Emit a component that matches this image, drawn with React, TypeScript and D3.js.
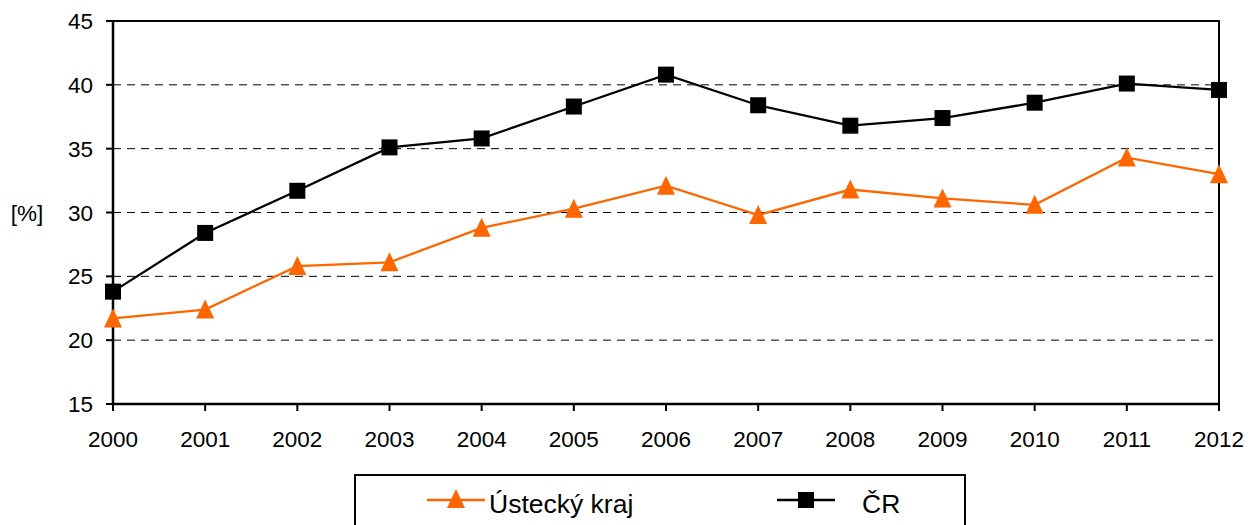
import React from "react";
import * as d3 from "d3";

const years = [2000, 2001, 2002, 2003, 2004, 2005, 2006, 2007, 2008, 2009, 2010, 2011, 2012];
const usteckyValues = [21.7, 22.4, 25.8, 26.1, 28.8, 30.3, 32.1, 29.8, 31.8, 31.1, 30.6, 34.3, 33.0];
const crValues = [23.8, 28.4, 31.7, 35.1, 35.8, 38.3, 40.8, 38.4, 36.8, 37.4, 38.6, 40.1, 39.6];
const yTicks = [15, 20, 25, 30, 35, 40, 45];
const seriesNames = ["Ústecký kraj", "ČR"];

const W = 1254, H = 525;
const left = 113, right = 1219, top = 21, bottom = 404;
const font = "'Liberation Sans', Arial, sans-serif";
const orange = "#FF6600";

export default function App() {
  const x = d3.scaleLinear().domain([2000, 2012]).range([left, right]);
  const y = d3.scaleLinear().domain([15, 45]).range([bottom, top]);
  const line = d3.line<number>().x((_, i) => x(years[i])).y((d) => y(d));
  const tri = (cx: number, cy: number) =>
    `M${cx},${cy - 10} L${cx + 9},${cy + 9} L${cx - 9},${cy + 9} Z`;

  return (
    <svg width={W} height={H} style={{ position: "absolute", left: 0, top: 0, background: "#fff" }}>
      {yTicks.filter((t) => t !== 15 && t !== 45).map((t) => (
        <line key={t} x1={left} x2={right} y1={y(t)} y2={y(t)} stroke="#000" strokeWidth={1} strokeDasharray="8,6" />
      ))}
      <rect x={left} y={top} width={right - left} height={bottom - top} fill="none" stroke="#000" strokeWidth={2} />
      <line x1={left} x2={left} y1={top} y2={bottom} stroke="#000" strokeWidth={2.5} />
      <line x1={left} x2={right} y1={bottom} y2={bottom} stroke="#000" strokeWidth={2.5} />
      {yTicks.map((t) => (
        <g key={t}>
          <line x1={left - 7} x2={left} y1={y(t)} y2={y(t)} stroke="#000" strokeWidth={2} />
          <text x={left - 20} y={y(t)} dy="0.36em" textAnchor="end" fontFamily={font} fontSize={22.5}>{t}</text>
        </g>
      ))}
      {years.map((yr) => (
        <g key={yr}>
          <line x1={x(yr)} x2={x(yr)} y1={bottom} y2={bottom + 7} stroke="#000" strokeWidth={2} />
          <text x={x(yr)} y={447} textAnchor="middle" fontFamily={font} fontSize={22.5}>{yr}</text>
        </g>
      ))}
      <text x={27} y={213} dy="0.36em" textAnchor="middle" fontFamily={font} fontSize={22.5}>[%]</text>
      <path d={line(crValues) || ""} fill="none" stroke="#000" strokeWidth={2.3} />
      <path d={line(usteckyValues) || ""} fill="none" stroke={orange} strokeWidth={2.3} />
      {crValues.map((v, i) => (
        <rect key={i} x={x(years[i]) - 8} y={y(v) - 8} width={16} height={16} fill="#000" />
      ))}
      {usteckyValues.map((v, i) => (
        <path key={i} d={tri(x(years[i]), y(v))} fill={orange} />
      ))}
      <rect x={355} y={475} width={610} height={60} fill="#fff" stroke="#000" strokeWidth={2} />
      <line x1={427} x2={485} y1={500} y2={500} stroke={orange} strokeWidth={2.3} />
      <path d={tri(456, 499)} fill={orange} />
      <text x={489} y={513} fontFamily={font} fontSize={26.5}>{seriesNames[0]}</text>
      <line x1={777} x2={835} y1={500} y2={500} stroke="#000" strokeWidth={2.3} />
      <rect x={798} y={492} width={16} height={16} fill="#000" />
      <text x={862} y={513} fontFamily={font} fontSize={26.5}>{seriesNames[1]}</text>
    </svg>
  );
}
